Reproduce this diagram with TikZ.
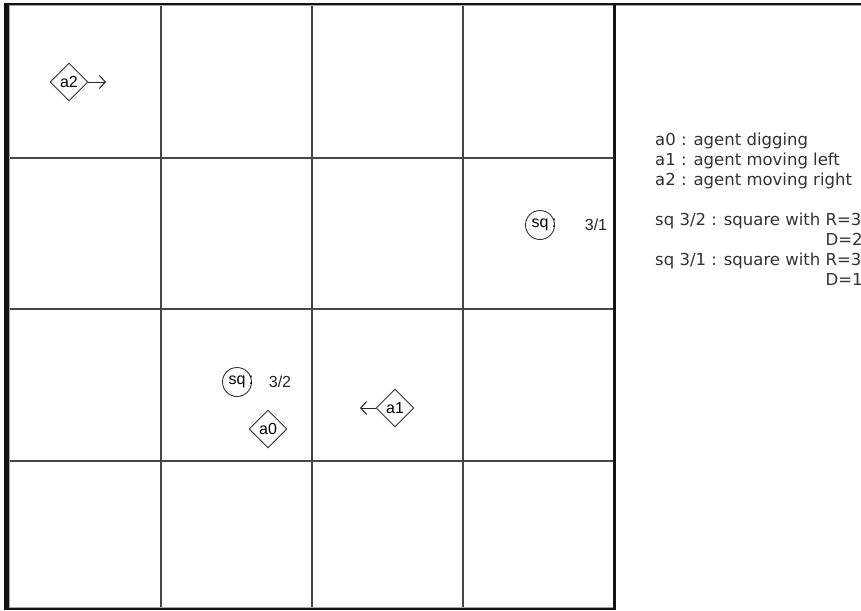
\documentclass[tikz,border=0pt]{standalone}
\usepackage{fontspec}
\setmainfont{DejaVu Sans}
\newfontfamily\cellfont{Liberation Sans}
\usetikzlibrary{shapes.geometric,arrows.meta}
\begin{document}
\begin{tikzpicture}[x=1pt,y=-1pt,
  gridline/.style={line width=1.3pt,draw=black!72},
  frame/.style={draw=black!92},
  agent/.style={diamond,draw=black!80,line width=0.9pt,minimum width=38pt,minimum height=38pt,inner sep=0pt,font=\cellfont\fontsize{16}{16}\selectfont},
  sqc/.style={circle,draw=black!80,line width=0.9pt,minimum size=29pt,inner sep=0pt,font=\cellfont\fontsize{16}{16}\selectfont},
  cnt/.style={font=\cellfont\fontsize{16}{16}\selectfont,inner sep=0pt,text=black!85},
  legend/.style={anchor=base west,inner sep=0pt,font=\fontsize{16.5}{20}\selectfont,text=black!80},
  movearrow/.style={line width=1pt,draw=black!85,-{Straight Barb[length=6pt,width=13pt]}}
]
\useasboundingbox (0,0) rectangle (861,610);
\fill[white] (0,0) rectangle (861,610);
% grid
\foreach \x in {161,312,463} \draw[gridline] (\x,6) -- (\x,608);
\foreach \y in {158,309,461} \draw[gridline] (10,\y) -- (613,\y);
% frame
\draw[draw=black!35,line width=1pt] (9.5,6) -- (9.5,608);
\draw[draw=black!35,line width=1pt] (9,5.5) -- (861,5.5);
\draw[draw=black!35,line width=1pt] (9,607) -- (613,607);
\draw[frame,line width=5pt] (6.5,3) -- (6.5,610);
\draw[frame,line width=2.5pt] (4,3.8) -- (861,3.8);
\draw[frame,line width=3pt] (614,4) -- (614,610);
\draw[frame,line width=2pt] (4,609) -- (615.5,609);
% agents
\node[agent] (a2) at (69,82) {a2};
\coordinate (a2tip) at (106,82);
\draw[movearrow] (a2.east) -- (a2tip);
\node[agent] (a1) at (395,408) {a1};
\coordinate (a1tip) at (360,408);
\draw[movearrow] (a1.west) -- (a1tip);
\node[agent] (a0) at (268,429) {a0};
% squares
\node[sqc] (sq1) at (540,225) {sq\rlap{\hspace{3.5pt}:}};
\node[cnt] (sq1lab) at (596,225) {3/1};
\node[sqc] (sq2) at (237,382) {sq\rlap{\hspace{3.5pt}:}};
\node[cnt] (sq2lab) at (280,382) {3/2};
% legend
\node[legend] (l0) at (655,145) {a0 : agent digging};
\node[legend] (l1) at (655,165) {a1 : agent moving left};
\node[legend] (l2) at (655,185) {a2 : agent moving right};
\node[legend] (l3) at (655,225) {sq 3/2 : square with R=3};
\node[legend] (l4) at (655,245) {\phantom{sq 3/2 : square with }D=2};
\node[legend] (l5) at (655,265) {sq 3/1 : square with R=3};
\node[legend] (l6) at (655,285) {\phantom{sq 3/1 : square with }D=1};
\end{tikzpicture}
\end{document}
